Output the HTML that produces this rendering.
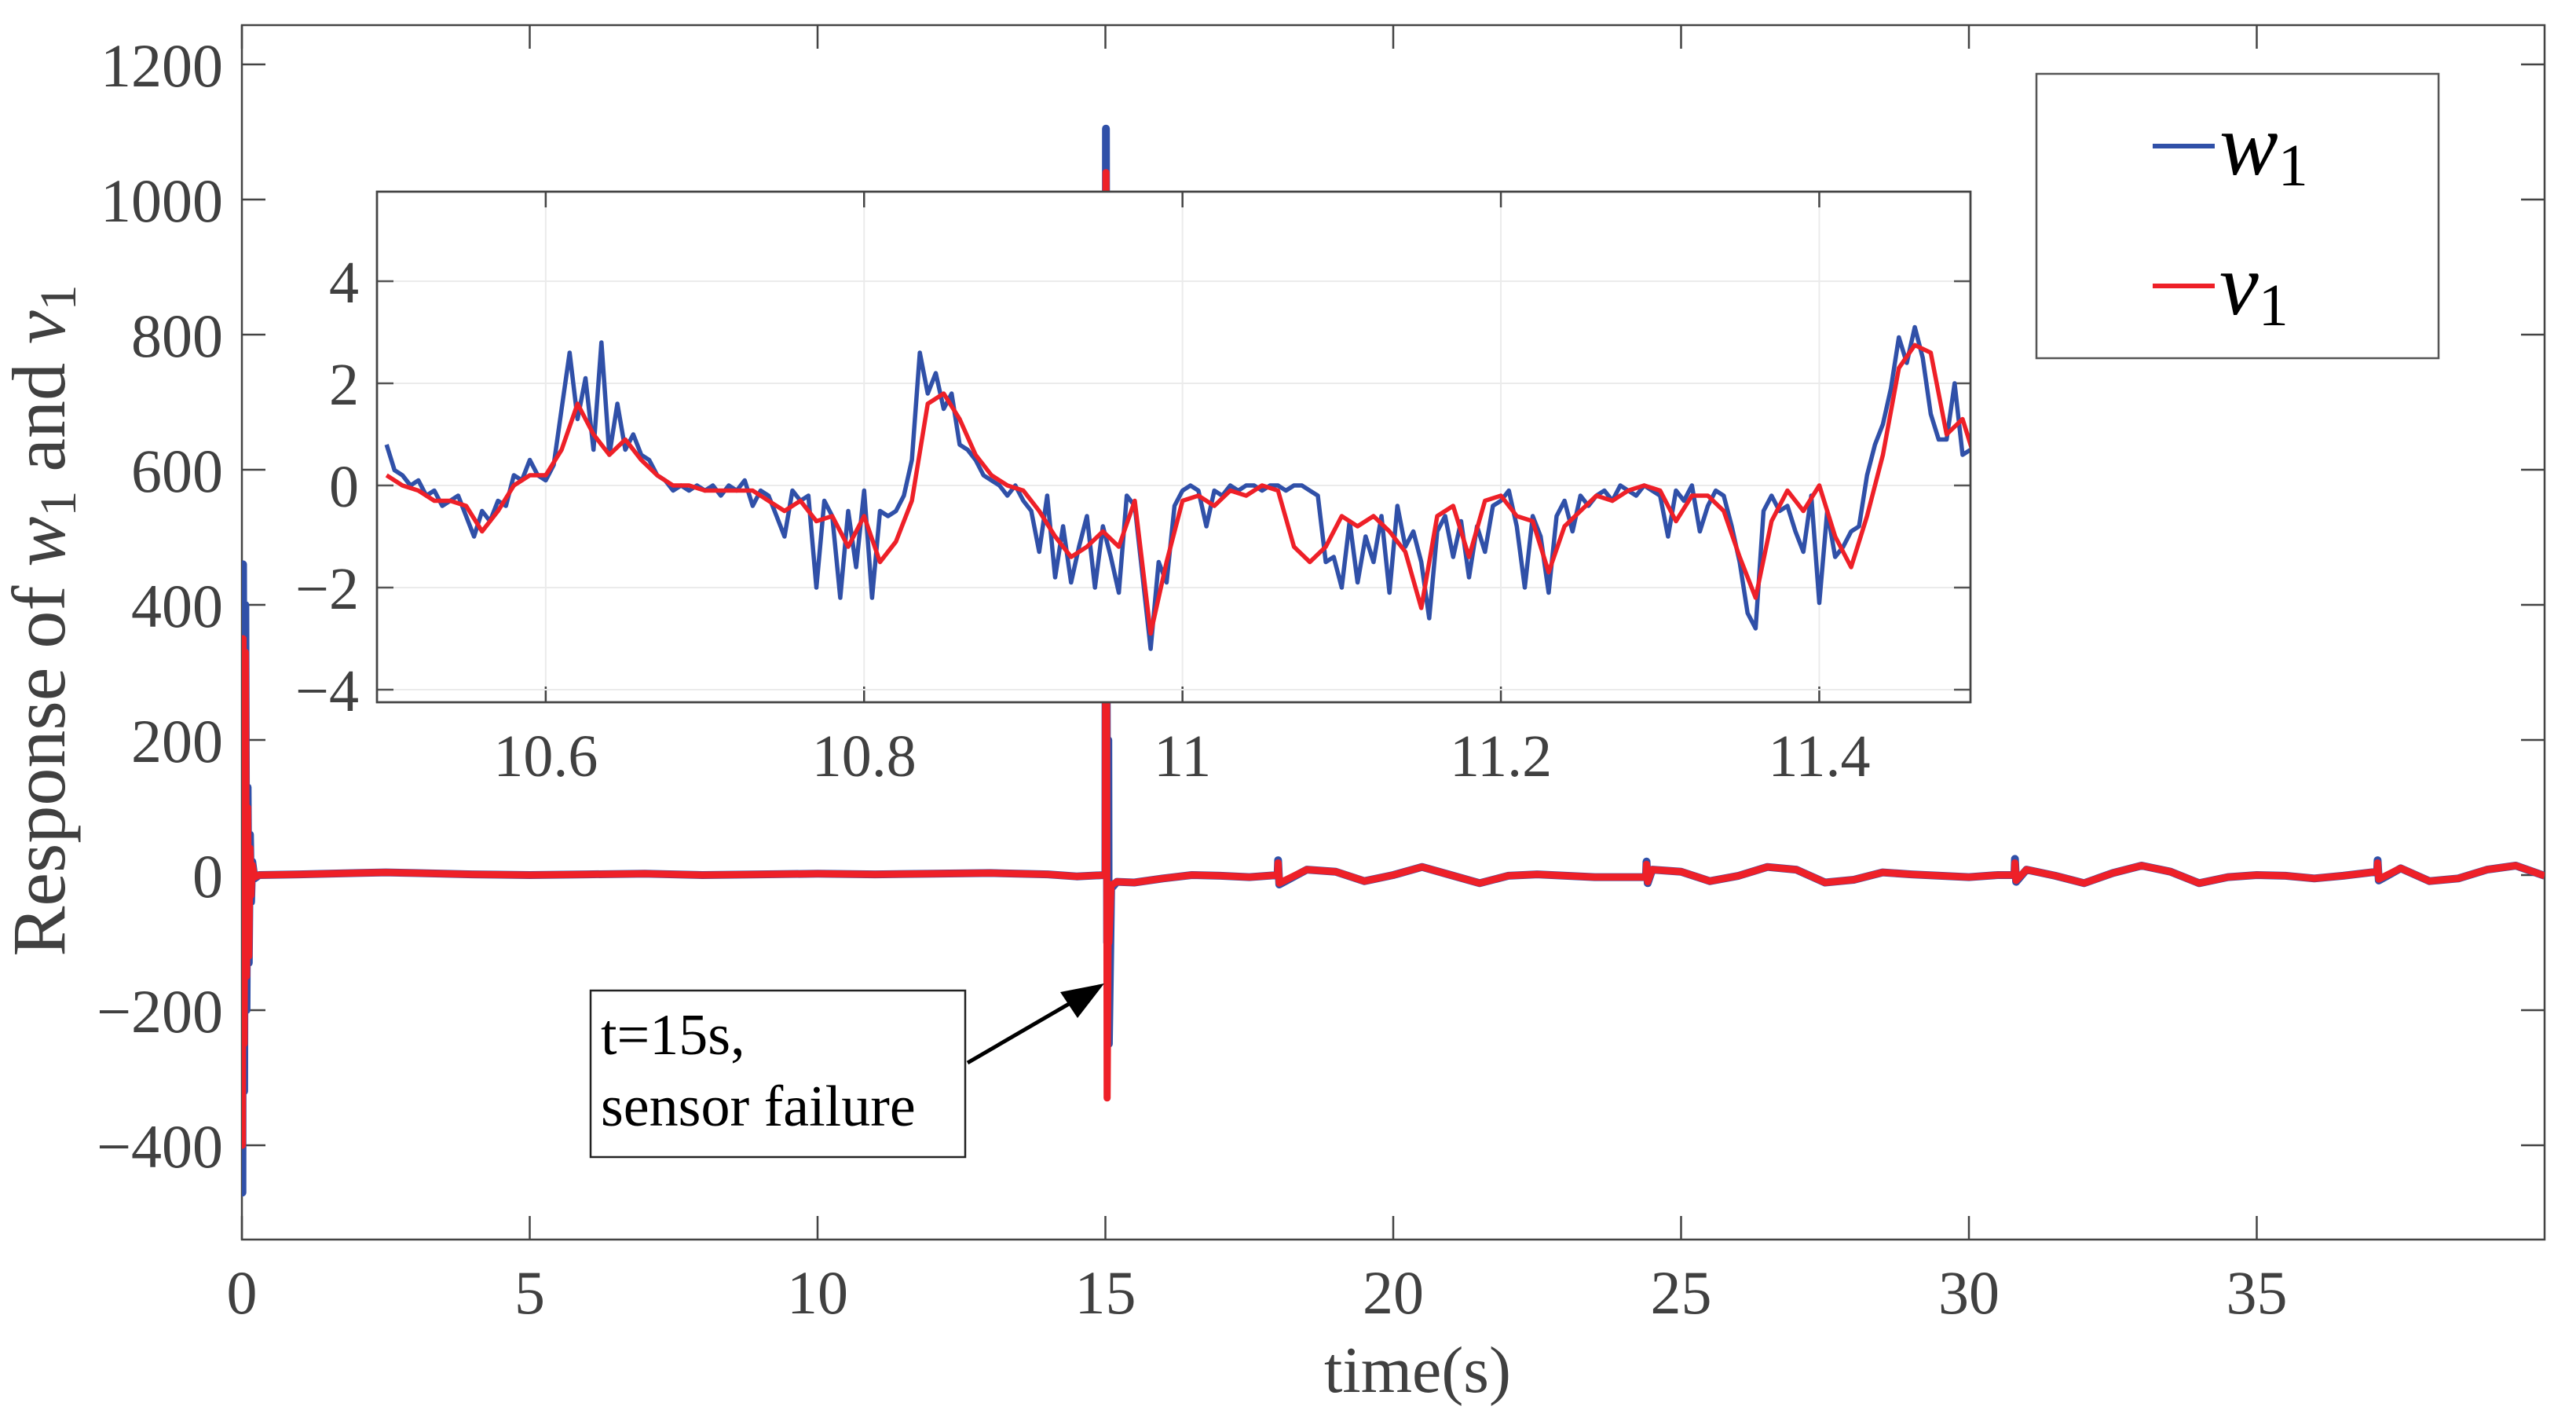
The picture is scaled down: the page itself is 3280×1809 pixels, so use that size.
<!DOCTYPE html>
<html><head><meta charset="utf-8">
<style>
html,body{margin:0;padding:0;background:#fff;}
svg{display:block;}
text{font-family:"Liberation Serif",serif;}
</style></head>
<body>
<svg id="chart" width="3280" height="1809" viewBox="0 0 3280 1809" xmlns="http://www.w3.org/2000/svg">
<defs>
<clipPath id="mainClip"><rect x="308" y="32" width="2932" height="1546"/></clipPath>
<clipPath id="insetClip"><rect x="480" y="244" width="2029" height="650"/></clipPath>
</defs>
<rect x="0" y="0" width="3280" height="1809" fill="#fff"/>
<g id="mainAxes"></g>
<g id="mainLines" clip-path="url(#mainClip)"></g>
<rect x="480" y="244" width="2029" height="650" fill="#fff" stroke="#444" stroke-width="2.5"/>
<g id="insetAxes"></g>
<g id="insetLines" clip-path="url(#insetClip)"></g>
<rect x="480" y="244" width="2029" height="650" fill="none" stroke="#444" stroke-width="2.5"/>

<g>
<rect x="2593" y="94" width="512" height="362" fill="#fff" stroke="#555" stroke-width="2.5"/>
<line x1="2741" y1="186" x2="2820" y2="186" stroke="#3050a8" stroke-width="6"/>
<text x="2826" y="222" font-size="112" font-style="italic" fill="#000">w<tspan font-size="76" font-style="normal" dy="14">1</tspan></text>
<line x1="2741" y1="364" x2="2820" y2="364" stroke="#ee2028" stroke-width="6"/>
<text x="2826" y="400" font-size="112" font-style="italic" fill="#000">v<tspan font-size="76" font-style="normal" dy="14">1</tspan></text>
</g>

<g>
<rect x="752" y="1261" width="477" height="212" fill="#fff" stroke="#222" stroke-width="2.5"/>
<text x="765" y="1342" font-size="74" fill="#000">t=15s,</text>
<text x="765" y="1433" font-size="74" fill="#000">sensor failure</text>
<line x1="1232" y1="1353" x2="1380" y2="1267" stroke="#000" stroke-width="5"/>
<polygon points="1406,1252 1350,1263 1372,1296" fill="#000"/>
</g>

<text transform="translate(82,790) rotate(-90)" text-anchor="middle" font-size="96" fill="#404040">Response of <tspan font-style="italic">w</tspan><tspan font-size="66" dy="14">1</tspan><tspan dy="-14"> and </tspan><tspan font-style="italic">v</tspan><tspan font-size="66" dy="14">1</tspan></text>
<text x="1805" y="1772" text-anchor="middle" font-size="84" fill="#404040">time(s)</text>
</svg>
<script>
// ---- main chart data ----
const mainXTicks = [0,5,10,15,20,25,30,35];
const mainYTicks = [-400,-200,0,200,400,600,800,1000,1200];
const mainYTickLabels = ["\u2212400","\u2212200","0","200","400","600","800","1000","1200"];
const mainT = [0,0.01,0.02,0.04,0.06,0.08,0.1,0.12,0.14,0.16,0.18,0.22,0.3,1,2,2.5,3,4,5,6,7,8,9,10,11,12,13,14,14.5,14.99,15.0,15.01,15.03,15.05,15.06,15.1,15.2,15.5,16,16.5,17,17.5,17.99,18.0,18.02,18.5,19,19.5,20,20.5,21,21.5,22,22.5,23,23.5,24,24.39,24.4,24.42,24.5,25,25.5,26,26.5,27,27.5,28,28.5,29,29.5,30,30.5,30.79,30.8,30.82,31,31.5,32,32.5,33,33.5,34,34.5,35,35.5,36,36.5,37.09,37.1,37.12,37.5,38,38.5,39,39.5,40];
const mainW = [0,-470,460,-320,400,-200,130,-130,60,-40,20,-5,0,1,3,4,3,1,0,1,2,0,1,2,1,2,3,1,-2,0,0,1105,-100,200,-250,-20,-10,-11,-5,0,-1,-3,0,22,-14,8,5,-9,0,12,0,-12,-1,1,-1,-3,-3,-3,20,-12,8,5,-9,-1,12,8,-11,-7,4,1,-1,-3,0,0,24,-10,8,-1,-12,3,14,5,-12,-3,0,-1,-5,-1,5,22,-8,10,-9,-5,8,14,-1];
const mainV = [0,-400,350,-250,330,-150,100,-120,40,-30,15,-3,0,1,3,4,3,1,0,1,2,0,1,2,1,2,3,1,-2,0,0,1040,-330,-50,-100,-15,-10,-11,-5,0,-1,-3,0,18,-12,8,5,-9,0,12,0,-12,-1,1,-1,-3,-3,-3,16,-10,8,5,-9,-1,12,8,-11,-7,4,1,-1,-3,0,0,18,-8,8,-1,-12,3,14,5,-12,-3,0,-1,-5,-1,5,18,-6,10,-9,-5,8,14,-1];

// ---- inset data ----
const insetXTicks = [10.6,10.8,11.0,11.2,11.4];
const insetXTickLabels = ["10.6","10.8","11","11.2","11.4"];
const insetYTicks = [-4,-2,0,2,4];
const insetYTickLabels = ["\u22124","\u22122","0","2","4"];
const insetV = [
0.2,0.0,-0.1,-0.3,-0.3,-0.4,-0.9,-0.5,0.0,0.2,
0.2,0.7,1.6,1.0,0.6,0.9,0.5,0.2,0.0,0.0,
-0.1,-0.1,-0.1,-0.1,-0.3,-0.5,-0.3,-0.7,-0.6,-1.2,
-0.6,-1.5,-1.1,-0.3,1.6,1.8,1.3,0.6,0.2,0.0,
-0.1,-0.5,-1.0,-1.4,-1.2,-0.9,-1.2,-0.3,-2.9,-1.5,
-0.3,-0.2,-0.4,-0.1,-0.2,0.0,-0.1,-1.2,-1.5,-1.2,
-0.6,-0.8,-0.6,-0.9,-1.3,-2.4,-0.6,-0.4,-1.4,-0.3,
-0.2,-0.6,-0.7,-1.7,-0.8,-0.5,-0.2,-0.3,-0.1,0.0,
-0.1,-0.7,-0.2,-0.2,-0.5,-1.4,-2.2,-0.7,-0.1,-0.5,
0.0,-1.0,-1.6,-0.6,0.6,2.3,2.75,2.6,1.0,1.3,0.3];
const insetW = [
0.8,0.3,0.2,0.0,0.1,-0.2,-0.1,-0.4,-0.3,-0.2,
-0.6,-1.0,-0.5,-0.7,-0.3,-0.4,0.2,0.1,0.5,0.2,
0.1,0.4,1.5,2.6,1.3,2.1,0.7,2.8,0.6,1.6,
0.7,1.0,0.6,0.5,0.2,0.1,-0.1,0.0,-0.1,0.0,
-0.1,0.0,-0.2,0.0,-0.1,0.1,-0.4,-0.1,-0.2,-0.6,
-1.0,-0.1,-0.3,-0.2,-2.0,-0.3,-0.6,-2.2,-0.5,-1.6,
-0.1,-2.2,-0.5,-0.6,-0.5,-0.2,0.5,2.6,1.8,2.2,
1.5,1.8,0.8,0.7,0.5,0.2,0.1,0.0,-0.2,0.0,
-0.3,-0.5,-1.3,-0.2,-1.8,-0.8,-1.9,-1.2,-0.6,-2.0,
-0.8,-1.4,-2.1,-0.2,-0.4,-1.8,-3.2,-1.5,-1.9,-0.4,
-0.1,0.0,-0.1,-0.8,-0.1,-0.2,0.0,-0.1,0.0,0.0,
-0.1,0.0,0.0,-0.1,0.0,0.0,-0.1,-0.2,-1.5,-1.4,
-2.0,-0.7,-1.9,-1.0,-1.5,-0.6,-2.1,-0.4,-1.2,-0.9,
-1.5,-2.6,-0.9,-0.6,-1.4,-0.7,-1.8,-0.8,-1.3,-0.4,
-0.3,-0.1,-0.8,-2.0,-0.6,-1.0,-2.1,-0.6,-0.3,-0.9,
-0.2,-0.4,-0.2,-0.1,-0.3,0.0,-0.1,-0.2,0.0,-0.1,
-0.2,-1.0,-0.1,-0.3,0.0,-0.9,-0.4,-0.1,-0.2,-0.8,
-1.5,-2.5,-2.8,-0.5,-0.2,-0.5,-0.4,-0.9,-1.3,-0.2,
-2.3,-0.5,-1.4,-1.2,-0.9,-0.8,0.2,0.8,1.2,1.9,
2.9,2.4,3.1,2.5,1.4,0.9,0.9,2.0,0.6,0.7,0.5];
const insetVStart = 10.50, insetVStep = 0.01;
const insetWStart = 10.50, insetWStep = 0.005;

const NS = "http://www.w3.org/2000/svg";
function mk(tag, attrs, parent){const e=document.createElementNS(NS,tag);for(const k in attrs)e.setAttribute(k,attrs[k]);parent.appendChild(e);return e;}

const mx = t => 308 + (t-0)*(3240-308)/40;
const my = v => 1114 - v*0.86;
const ix = t => 480 + (t-10.494)*2027;
const iy = v => 618 - v*65;

const mainAxes = document.getElementById('mainAxes');
let fr = mk('rect',{x:308,y:32,width:2932,height:1546,fill:'none',stroke:'#444','stroke-width':2.5},mainAxes);


mainXTicks.forEach(t=>{
  const x=mx(t);
  let a=mk('line',{x1:x,y1:1578,x2:x,y2:1548,stroke:'#444','stroke-width':2.5},mainAxes);
  
  
  let b=mk('line',{x1:x,y1:32,x2:x,y2:62,stroke:'#444','stroke-width':2.5},mainAxes);
  
  
  let l=mk('text',{x:x,y:1672,'text-anchor':'middle','font-size':78,fill:'#404040'},mainAxes);
  l.textContent=String(t);
  
  
});
mainYTicks.forEach((v,i)=>{
  const y=my(v);
  let a=mk('line',{x1:308,y1:y,x2:338,y2:y,stroke:'#444','stroke-width':2.5},mainAxes);
  
  
  let b=mk('line',{x1:3210,y1:y,x2:3240,y2:y,stroke:'#444','stroke-width':2.5},mainAxes);
  
  
  let l=mk('text',{x:284,y:y+28,'text-anchor':'end','font-size':78,fill:'#404040'},mainAxes);
  l.textContent=mainYTickLabels[i];
  
  
});
const mainLines=document.getElementById('mainLines');
function path(ts,vs,fx,fy){return ts.map((t,i)=>(i?'L':'M')+fx(t).toFixed(1)+','+fy(vs[i]).toFixed(1)).join(' ');}
let pw=mk('path',{d:path(mainT,mainW,mx,my),fill:'none',stroke:'#3050a8','stroke-width':10,'stroke-linejoin':'round'},mainLines);


let pv=mk('path',{d:path(mainT,mainV,mx,my),fill:'none',stroke:'#ee2028','stroke-width':9,'stroke-linejoin':'round'},mainLines);



const insetAxes=document.getElementById('insetAxes');
insetXTicks.forEach((t,i)=>{
  const x=ix(t);
  let g=mk('line',{x1:x,y1:244,x2:x,y2:894,stroke:'#ebebeb','stroke-width':2},insetAxes);
  
  
  let a=mk('line',{x1:x,y1:894,x2:x,y2:874,stroke:'#444','stroke-width':2.5},insetAxes);
  
  
  let b=mk('line',{x1:x,y1:244,x2:x,y2:264,stroke:'#444','stroke-width':2.5},insetAxes);
  
  
  let l=mk('text',{x:x,y:988,'text-anchor':'middle','font-size':76,fill:'#404040'},insetAxes);
  l.textContent=insetXTickLabels[i];
  
  
});
insetYTicks.forEach((v,i)=>{
  const y=iy(v);
  let g=mk('line',{x1:480,y1:y,x2:2509,y2:y,stroke:'#ebebeb','stroke-width':2},insetAxes);
  
  
  let a=mk('line',{x1:480,y1:y,x2:501,y2:y,stroke:'#555','stroke-width':2.5},insetAxes);
  
  
  let b=mk('line',{x1:2488,y1:y,x2:2509,y2:y,stroke:'#555','stroke-width':2.5},insetAxes);
  
  
  let l=mk('text',{x:457,y:y+27,'text-anchor':'end','font-size':76,fill:'#404040'},insetAxes);
  l.textContent=insetYTickLabels[i];
  
  
});
const insetLines=document.getElementById('insetLines');
const tW=insetW.map((_,i)=>insetWStart+i*insetWStep);
const tV=insetV.map((_,i)=>insetVStart+i*insetVStep);
let iw=mk('path',{d:path(tW,insetW,ix,iy),fill:'none',stroke:'#3050a8','stroke-width':5.5,'stroke-linejoin':'round'},insetLines);


let iv=mk('path',{d:path(tV,insetV,ix,iy),fill:'none',stroke:'#ee2028','stroke-width':5.5,'stroke-linejoin':'round'},insetLines);


</script>
</body></html>
